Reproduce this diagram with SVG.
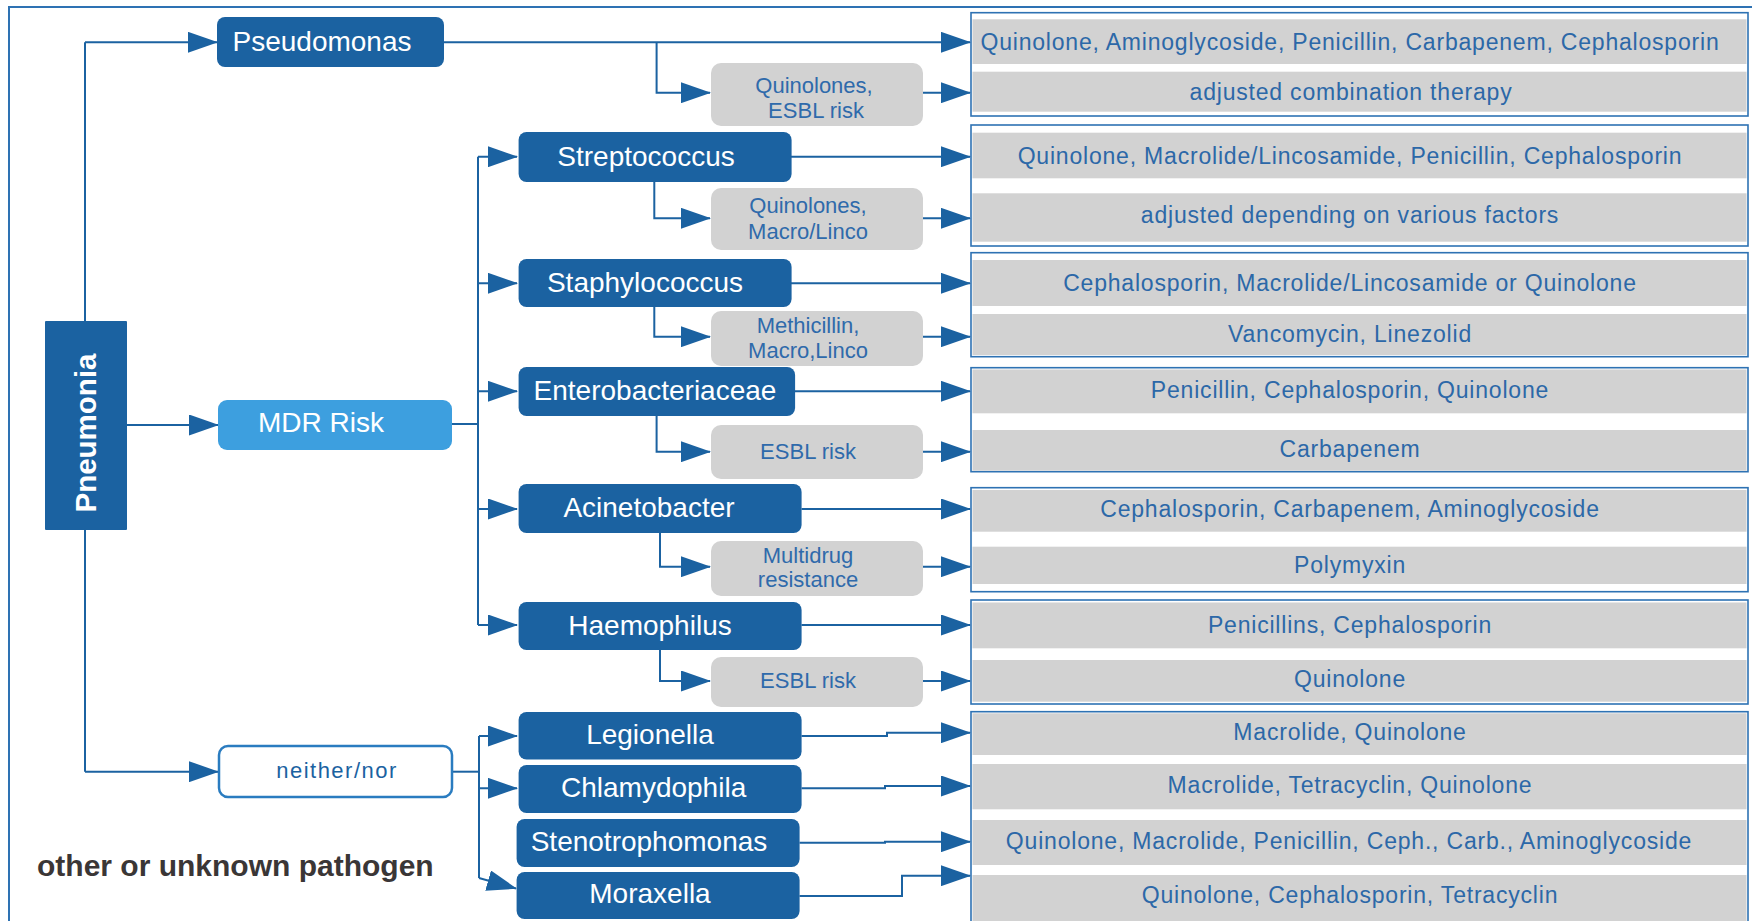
<svg xmlns="http://www.w3.org/2000/svg" width="1752" height="921" viewBox="0 0 1752 921">
<defs>
<style>
.main{fill:#1b62a1}
.mt{font-family:"Liberation Sans",Arial,sans-serif;font-size:28px;fill:#ffffff;text-anchor:middle}
.gb{fill:#d2d2d2}
.gt{font-family:"Liberation Sans",Arial,sans-serif;font-size:22px;fill:#2f6aab;text-anchor:middle}
.grp{fill:#ffffff;stroke:#2e72b3;stroke-width:1.6}
.row{fill:#d2d2d2}
.rt{font-family:"Liberation Sans",Arial,sans-serif;font-size:23px;letter-spacing:0.8px;fill:#2c68a8;text-anchor:middle}
.ln{fill:none;stroke:#1b62a1;stroke-width:2}
.arr{fill:none;stroke:#1b62a1;stroke-width:2;marker-end:url(#ah)}
</style>
<marker id="ah" viewBox="0 0 30 21" refX="29" refY="10.5" markerWidth="30" markerHeight="21" markerUnits="userSpaceOnUse" orient="auto">
<path d="M0,0 L30,10.5 L0,21 z" fill="#1b62a1"/>
</marker>
</defs>
<rect width="1752" height="921" fill="#ffffff"/>
<path d="M9,925 V7 H1756" fill="none" stroke="#2e72b3" stroke-width="2"/>

<!-- result groups -->
<g id="res-pseudomonas">
<rect class="grp" x="971" y="12.7" width="777" height="103.3"/>
<rect class="row" x="972.5" y="19.3" width="774" height="44.7"/>
<rect class="row" x="972.5" y="71.7" width="774" height="40"/>
<text class="rt" x="1350" y="50">Quinolone, Aminoglycoside, Penicillin, Carbapenem, Cephalosporin</text>
<text class="rt" x="1351" y="100">adjusted combination therapy</text>
</g>
<g id="res-streptococcus">
<rect class="grp" x="971" y="125" width="777" height="121"/>
<rect class="row" x="972.5" y="132.7" width="774" height="45.6"/>
<rect class="row" x="972.5" y="193.3" width="774" height="48.4"/>
<text class="rt" x="1350" y="164">Quinolone, Macrolide/Lincosamide, Penicillin, Cephalosporin</text>
<text class="rt" x="1350" y="222.7">adjusted depending on various factors</text>
</g>
<g id="res-staphylococcus">
<rect class="grp" x="971" y="252.7" width="777" height="104"/>
<rect class="row" x="972.5" y="260" width="774" height="46"/>
<rect class="row" x="972.5" y="314" width="774" height="41"/>
<text class="rt" x="1350" y="291">Cephalosporin, Macrolide/Lincosamide or Quinolone</text>
<text class="rt" x="1350" y="341.7">Vancomycin, Linezolid</text>
</g>
<g id="res-enterobacteriaceae">
<rect class="grp" x="971" y="367.7" width="777" height="104"/>
<rect class="row" x="972.5" y="369.5" width="774" height="43.8"/>
<rect class="row" x="972.5" y="430" width="774" height="40.7"/>
<text class="rt" x="1350" y="398.3">Penicillin, Cephalosporin, Quinolone</text>
<text class="rt" x="1350" y="456.7">Carbapenem</text>
</g>
<g id="res-acinetobacter">
<rect class="grp" x="971" y="487.7" width="777" height="104"/>
<rect class="row" x="972.5" y="490" width="774" height="41.7"/>
<rect class="row" x="972.5" y="546.7" width="774" height="37.3"/>
<text class="rt" x="1350" y="516.7">Cephalosporin, Carbapenem, Aminoglycoside</text>
<text class="rt" x="1350" y="573.3">Polymyxin</text>
</g>
<g id="res-haemophilus">
<rect class="grp" x="971" y="600" width="777" height="104"/>
<rect class="row" x="972.5" y="602.5" width="774" height="45.8"/>
<rect class="row" x="972.5" y="660" width="774" height="41.7"/>
<text class="rt" x="1350" y="633.3">Penicillins, Cephalosporin</text>
<text class="rt" x="1350" y="686.7">Quinolone</text>
</g>
<g id="res-other">
<rect class="grp" x="971" y="711.7" width="777" height="220"/>
<rect class="row" x="972.5" y="713.3" width="774" height="41.7"/>
<rect class="row" x="972.5" y="764" width="774" height="45.3"/>
<rect class="row" x="972.5" y="820" width="774" height="45"/>
<rect class="row" x="972.5" y="875" width="774" height="46"/>
<text class="rt" x="1350" y="740">Macrolide, Quinolone</text>
<text class="rt" x="1350" y="792.7">Macrolide, Tetracyclin, Quinolone</text>
<text class="rt" x="1349" y="849.3">Quinolone, Macrolide, Penicillin, Ceph., Carb., Aminoglycoside</text>
<text class="rt" x="1350" y="903.3">Quinolone, Cephalosporin, Tetracyclin</text>
</g>

<!-- connectors -->
<g id="connectors">
<path class="ln" d="M85,321 V42.3"/>
<path class="arr" d="M85,42.3 H217"/>
<path class="arr" d="M127,425 H218"/>
<path class="ln" d="M85,530 V771.7"/>
<path class="arr" d="M85,771.7 H218"/>
<path class="ln" d="M452,424 H478"/>
<path class="ln" d="M478,156.7 V625"/>
<path class="arr" d="M478,156.7 H517"/>
<path class="arr" d="M478,283.3 H517"/>
<path class="arr" d="M478,391.3 H517"/>
<path class="arr" d="M478,509 H517"/>
<path class="arr" d="M478,625 H517"/>
<path class="ln" d="M452,771.7 H479"/>
<path class="ln" d="M479,736 V878"/>
<path class="arr" d="M479,736 H517"/>
<path class="arr" d="M479,788.3 H517"/>
<path class="arr" d="M479,878 L516,888.5"/>

<path class="arr" d="M444,42.3 H970"/>
<path class="arr" d="M656.6,42.3 V92.7 H710"/>
<path class="arr" d="M923,92.7 H970"/>
<path class="arr" d="M791,156.7 H970"/>
<path class="arr" d="M654.3,182 V218.3 H710"/>
<path class="arr" d="M923,218.3 H970"/>
<path class="arr" d="M791,283.3 H970"/>
<path class="arr" d="M654.3,307 V336.7 H710"/>
<path class="arr" d="M923,336.7 H970"/>
<path class="arr" d="M795,391.3 H970"/>
<path class="arr" d="M656.6,416 V451.7 H710"/>
<path class="arr" d="M923,451.7 H970"/>
<path class="arr" d="M801.5,509 H970"/>
<path class="arr" d="M660,533 V566.7 H710"/>
<path class="arr" d="M923,566.7 H970"/>
<path class="arr" d="M801.5,625 H970"/>
<path class="arr" d="M660,650 V681 H710"/>
<path class="arr" d="M923,681 H970"/>
<path class="arr" d="M801.5,736 H887 V732.7 H970"/>
<path class="arr" d="M801.5,788.3 H885 V786 H970"/>
<path class="arr" d="M799.5,842.7 H885 V841.7 H970"/>
<path class="arr" d="M799.5,896 H902 V875.7 H970"/>
</g>

<!-- nodes -->
<g id="pneumonia">
<rect class="main" x="45" y="321" width="82" height="209" rx="1"/>
<text transform="translate(96,433) rotate(-90)" font-family="Liberation Sans, Arial, sans-serif" font-size="29.5" font-weight="bold" fill="#ffffff" text-anchor="middle">Pneumonia</text>
</g>
<g id="pseudomonas">
<rect class="main" x="217" y="17" width="227" height="50" rx="8"/>
<text class="mt" x="322" y="51">Pseudomonas</text>
</g>
<g id="mdr-risk">
<rect x="218" y="400" width="234" height="50" rx="9" fill="#3d9fdf"/>
<text class="mt" x="321" y="432">MDR Risk</text>
</g>
<g id="neither-nor">
<rect x="219" y="746" width="233" height="51" rx="9" fill="#ffffff" stroke="#2a7cc0" stroke-width="2.5"/>
<text x="337" y="778" font-family="Liberation Sans, Arial, sans-serif" font-size="22" letter-spacing="1.5" fill="#1b62a1" text-anchor="middle">neither/nor</text>
</g>
<g id="streptococcus">
<rect class="main" x="518.6" y="132" width="273" height="50" rx="8"/>
<text class="mt" x="646" y="166">Streptococcus</text>
</g>
<g id="staphylococcus">
<rect class="main" x="518.6" y="259" width="273" height="48" rx="8"/>
<text class="mt" x="645" y="292">Staphylococcus</text>
</g>
<g id="enterobacteriaceae">
<rect class="main" x="518.6" y="367" width="276.5" height="49" rx="8"/>
<text class="mt" x="655" y="400">Enterobacteriaceae</text>
</g>
<g id="acinetobacter">
<rect class="main" x="518.6" y="484" width="283" height="49" rx="8"/>
<text class="mt" x="649" y="517">Acinetobacter</text>
</g>
<g id="haemophilus">
<rect class="main" x="518.6" y="602" width="283" height="48" rx="8"/>
<text class="mt" x="650" y="635">Haemophilus</text>
</g>
<g id="legionella">
<rect class="main" x="518.6" y="712" width="283" height="47.5" rx="8"/>
<text class="mt" x="650" y="744">Legionella</text>
</g>
<g id="chlamydophila">
<rect class="main" x="518.6" y="765" width="283" height="48" rx="8"/>
<text class="mt" x="653.6" y="797">Chlamydophila</text>
</g>
<g id="stenotrophomonas">
<rect class="main" x="516.6" y="819" width="283" height="48" rx="8"/>
<text class="mt" x="649" y="851">Stenotrophomonas</text>
</g>
<g id="moraxella">
<rect class="main" x="516.6" y="872" width="283" height="47" rx="8"/>
<text class="mt" x="650" y="903">Moraxella</text>
</g>

<g id="cond-pseudomonas">
<rect class="gb" x="711" y="63" width="212" height="63" rx="10"/>
<text class="gt" x="814" y="92.7">Quinolones,</text>
<text class="gt" x="816" y="118.3">ESBL risk</text>
</g>
<g id="cond-streptococcus">
<rect class="gb" x="711" y="188" width="212" height="62" rx="10"/>
<text class="gt" x="808" y="212.7">Quinolones,</text>
<text class="gt" x="808" y="239.3">Macro/Linco</text>
</g>
<g id="cond-staphylococcus">
<rect class="gb" x="711" y="311" width="212" height="55" rx="10"/>
<text class="gt" x="808" y="333.3">Methicillin,</text>
<text class="gt" x="808" y="358.3">Macro,Linco</text>
</g>
<g id="cond-enterobacteriaceae">
<rect class="gb" x="711" y="425" width="212" height="54" rx="10"/>
<text class="gt" x="808" y="459.3">ESBL risk</text>
</g>
<g id="cond-acinetobacter">
<rect class="gb" x="711" y="541" width="212" height="55" rx="10"/>
<text class="gt" x="808" y="563.3">Multidrug</text>
<text class="gt" x="808" y="586.7">resistance</text>
</g>
<g id="cond-haemophilus">
<rect class="gb" x="711" y="657" width="212" height="50" rx="10"/>
<text class="gt" x="808" y="688.3">ESBL risk</text>
</g>

<text x="37" y="876" font-family="Liberation Sans, Arial, sans-serif" font-size="30" font-weight="bold" fill="#3a3636">other or unknown pathogen</text>
</svg>
